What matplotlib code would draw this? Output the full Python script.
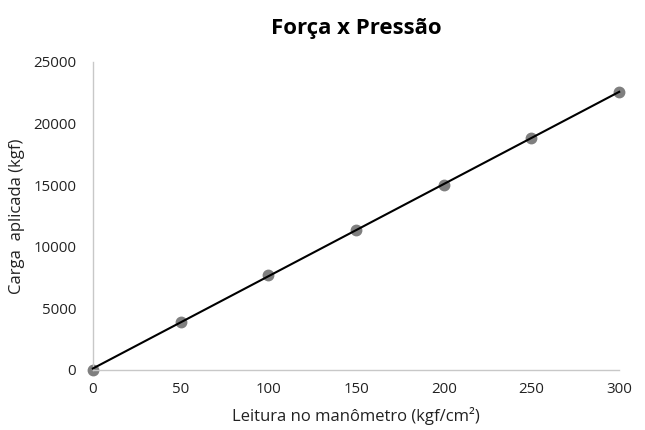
import matplotlib.pyplot as plt
import numpy as np

plt.rcParams['font.family'] = ['Open Sans', 'DejaVu Sans']

# leitura do manometro x carga aplicada
leitura = [0, 50, 100, 150, 200, 250, 300]
carga = [0, 3900, 7710, 11360, 15010, 18830, 22560]
y_ticks = [0, 5000, 10000, 15000, 20000, 25000]
x_ticks = [0, 50, 100, 150, 200, 250, 300]

fig = plt.figure(figsize=(6.45, 4.3), dpi=100)
ax = fig.add_axes([0.144, 0.14, 0.816, 0.716])

ax.plot(leitura, carga, 'o', color='#7f7f7f', markersize=7.5, zorder=2, clip_on=False)

# linha de tendencia linear
a, b = np.polyfit(leitura, carga, 1)
xs = np.array([leitura[0], leitura[-1]])
ax.plot(xs, a * xs + b, color='black', linewidth=1.5, zorder=3, clip_on=False)

ax.set_xlim(0, 300)
ax.set_ylim(0, 25000)
ax.set_xticks(x_ticks)
ax.set_yticks(y_ticks)
ax.tick_params(length=0, labelsize=10.8, colors='#222222')
ax.tick_params(axis='y', pad=12)
ax.tick_params(axis='x', pad=9)

for s in ['top', 'right']:
    ax.spines[s].set_visible(False)
for s in ['left', 'bottom']:
    ax.spines[s].set_color('#c8c8c8')
    ax.spines[s].set_linewidth(1)

ax.set_title('Força x Pressão', fontsize=16, fontweight='bold', pad=20)
ax.set_xlabel('Leitura no manômetro (kgf/cm²)', fontsize=12, color='#222222', labelpad=7)
ax.set_ylabel('Carga  aplicada (kgf)', fontsize=12, color='#222222', labelpad=6)

fig.savefig('out.png', dpi=100, facecolor='white')
